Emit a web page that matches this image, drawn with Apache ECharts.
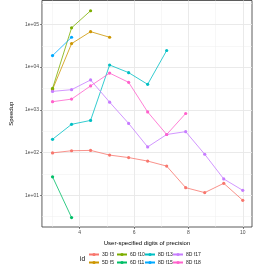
<!DOCTYPE html>
<html><head><meta charset="utf-8">
<script src="https://cdn.jsdelivr.net/npm/echarts@6/dist/echarts.min.js"></script>
<style>html,body{margin:0;padding:0;background:#fff}#c{width:253px;height:270px}</style>
</head><body><div id="c"></div>
<script>
// x values (user-specified digits of precision)
const digits = [3, 3.7, 4.4, 5.1, 5.8, 6.5, 7.2, 7.9, 8.6, 9.3, 10];
// series names (legend, column-major order)
const ids = ['3D f3', '5D f5', '6D f10', '6D f11', '8D f13', '8D f15', '8D f17', '8D f18'];
const colors = ['#F8766D', '#CD9600', '#7CAE00', '#00BE67', '#00BFC4', '#00A9FF', '#C77CFF', '#FF61CC'];
// speedup values per id (aligned with digits)
const s3Df3  = [98, 110, 112, 87, 76, 63, 48, 15, 11.5, 19, 7.6];
const s5Df5  = [3000, 35500, 67600, 50000];
const s6Df10 = [3160, 83000, 209000];
const s6Df11 = [27, 3.0];
const s8Df13 = [204, 457, 565, 11200, 7420, 3950, 24500];
const s8Df15 = [18600, 50000];
const s8Df17 = [2700, 2960, 5000, 1510, 480, 135, 264, 308, 91, 24, 13];
const s8Df18 = [1550, 1780, 3630, 7240, 4400, 890, 264, 820];
const values = [s3Df3, s5Df5, s6Df10, s6Df11, s8Df13, s8Df15, s8Df17, s8Df18];
// axis ticks
const xTicks = [4, 6, 8, 10];
const xMinor = [3, 5, 7, 9];
const yTicks = [10, 100, 1000, 10000, 100000];
const yMinor = [3.1623, 31.623, 316.23, 3162.3, 31623, 316228];

const font = '"Liberation Sans", Arial, sans-serif';
const grid = {left: 24, right: 1, top: 0.5, bottom: 43, show: true, borderColor: '#333333', borderWidth: 0.8, backgroundColor: '#fff'};

const gridSeries = {
  type: 'line', data: [], z: 1, silent: true,
  markLine: {
    silent: true, z: 1, symbol: ['none', 'none'], label: {show: false}, animation: false,
    data: [
      ...yMinor.map(v => ({yAxis: v, lineStyle: {color: '#EFEFEF', width: 0.5, type: 'solid'}})),
      ...xMinor.map(v => ({xAxis: v, lineStyle: {color: '#EFEFEF', width: 0.5, type: 'solid'}})),
      ...yTicks.map(v => ({yAxis: v, lineStyle: {color: '#E8E8E8', width: 0.9, type: 'solid'}})),
      ...xTicks.map(v => ({xAxis: v, lineStyle: {color: '#E8E8E8', width: 0.9, type: 'solid'}}))
    ]
  }
};

const series = [gridSeries].concat(ids.map((id, i) => ({
  name: id, type: 'line', z: 3,
  data: values[i].map((v, k) => [digits[k], v]),
  symbol: 'circle', symbolSize: 3.2, showSymbol: true, showAllSymbol: true,
  lineStyle: {color: colors[i], width: 0.8},
  itemStyle: {color: colors[i]},
  animation: false
})));

// legends: 2 rows x 4 columns, column-major
const legends = ids.map((id, i) => ({
  data: [id],
  left: 88 + Math.floor(i / 2) * 28,
  top: 252 + (i % 2) * 8,
  itemWidth: 10, itemHeight: 4, itemGap: 0, padding: 0,
  textStyle: {fontSize: 5, color: '#1a1a1a', fontFamily: font, padding: [0, 0, 0, -2]},
  selectedMode: false
}));

const chart = echarts.init(document.getElementById('c'), null, {renderer: 'canvas'});
chart.setOption({
  animation: false,
  backgroundColor: '#fff',
  color: colors,
  textStyle: {fontFamily: font},
  title: {text: 'id', left: 80, top: 256, padding: 0, textStyle: {fontSize: 6.5, fontWeight: 'normal', color: '#000', fontFamily: font}},
  grid: grid,
  legend: legends,
  xAxis: {
    type: 'value', min: 2.61, max: 10.34,
    name: 'User-specified digits of precision', nameLocation: 'middle', nameGap: 11,
    nameTextStyle: {fontSize: 6, color: '#000', fontFamily: font},
    axisLine: {show: false},
    axisTick: {show: true, length: 2, lineStyle: {color: '#333', width: 0.6}, customValues: xTicks},
    axisLabel: {fontSize: 5, color: '#4D4D4D', margin: 3, customValues: xTicks, fontFamily: font},
    splitLine: {show: false}
  },
  yAxis: {
    type: 'log', logBase: 10, min: 1.8, max: 363000,
    name: 'Speedup', nameLocation: 'middle', nameGap: 16,
    nameTextStyle: {fontSize: 6, color: '#000', fontFamily: font},
    axisLine: {show: false},
    axisTick: {show: true, length: 2, lineStyle: {color: '#333', width: 0.6}, customValues: yTicks},
    axisLabel: {fontSize: 5, color: '#4D4D4D', margin: 3, customValues: yTicks, fontFamily: font,
      formatter: v => '1e+' + String(Math.round(Math.log10(v))).padStart(2, '0')},
    splitLine: {show: false}
  },
  series: series
});
</script></body></html>
